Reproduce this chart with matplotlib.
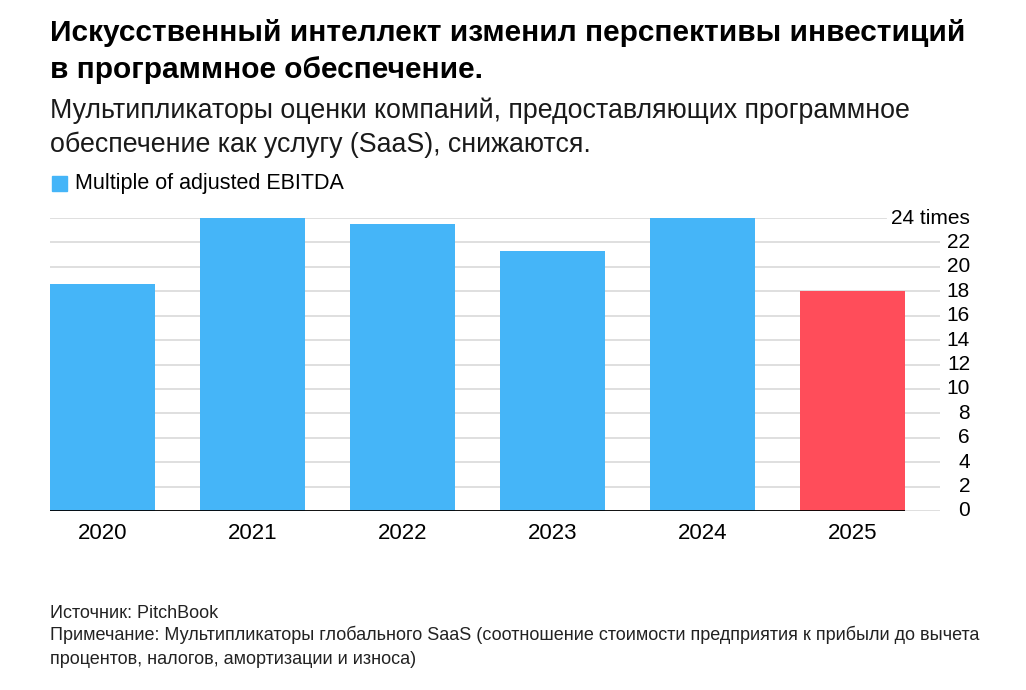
import matplotlib
matplotlib.use("Agg")
import matplotlib.pyplot as plt
import matplotlib.transforms as mtransforms

years = ["2020", "2021", "2022", "2023", "2024", "2025"]
multiples = [18.6, 24.0, 23.5, 21.3, 24.0, 18.0]
bar_colors = ["#45b5f8", "#45b5f8", "#45b5f8", "#45b5f8", "#45b5f8", "#ff4d5a"]
yticks = [0, 2, 4, 6, 8, 10, 12, 14, 16, 18, 20, 22, 24]
ytick_labels = ["0", "2", "4", "6", "8", "10", "12", "14", "16", "18", "20", "22", "24 times"]

title = "Искусственный интеллект изменил перспективы инвестиций\nв программное обеспечение."
subtitle = "Мультипликаторы оценки компаний, предоставляющих программное\nобеспечение как услугу (SaaS), снижаются."
legend_label = "Multiple of adjusted EBITDA"
source = "Источник: PitchBook"
note = ("Примечание: Мультипликаторы глобального SaaS (соотношение стоимости предприятия к прибыли до вычета\n"
        "процентов, налогов, амортизации и износа)")

plt.rcParams['font.family'] = ['Liberation Sans', 'DejaVu Sans']

W, H = 1026, 690
fig = plt.figure(figsize=(W / 100, H / 100), dpi=100)

# axes: x 50..940 px, y 218..511 px
left, right, top, bottom = 50, 940, 218, 511
ax = fig.add_axes([left / W, 1 - bottom / H, (right - left) / W, (bottom - top) / H])
slot = 150.0
xmin = -0.35
ax.set_xlim(xmin, xmin + (right - left) / slot)
ax.set_ylim(0, 24)
for s in ax.spines.values():
    s.set_visible(False)
ax.set_yticks([])
ax.set_xticks([])

# gridlines
for v in yticks:
    xmax = 1.0 if v != 24 else (886 - left) / (right - left)
    ax.axhline(v, xmin=0, xmax=xmax, color="#dcdcdc", lw=1.3, zorder=0)

x = list(range(len(years)))
ax.bar(x, multiples, width=0.7, color=bar_colors, zorder=2)
ax.plot([xmin, len(years) - 1 + 0.35], [0, 0], color="black", lw=1.3, zorder=3, solid_capstyle="butt")

trans = mtransforms.blended_transform_factory(ax.transAxes, ax.transData)
lx = (970 - left) / (right - left)
for v, lab in zip(yticks, ytick_labels):
    ax.text(lx, v, lab, transform=trans, ha="right", va="center", fontsize=15, color="black")

for xi, yr in zip(x, years):
    ax.text(xi, -0.95, yr, ha="center", va="top", fontsize=16, color="black")

fig.text(50 / W, 1 - 19 / H, title, ha="left", va="top", fontsize=21.5, fontweight="bold",
         color="black", linespacing=1.4)
fig.text(50 / W, 1 - 97 / H, subtitle, ha="left", va="top", fontsize=19.3, color="#1a1a1a",
         linespacing=1.4)

# legend
fig.patches.append(plt.Rectangle((52 / W, 1 - 191 / H), 15 / W, 15 / H, transform=fig.transFigure,
                                 color="#45b5f8", figure=fig))
fig.text(75 / W, 1 - 184 / H, legend_label, ha="left", va="center", fontsize=15.5, color="black")

fig.text(50 / W, 1 - 605 / H, source, ha="left", va="top", fontsize=13, color="#222222")
fig.text(50 / W, 1 - 626 / H, note, ha="left", va="top", fontsize=13, color="#222222",
         linespacing=1.5)

fig.savefig("out.png", dpi=100)
